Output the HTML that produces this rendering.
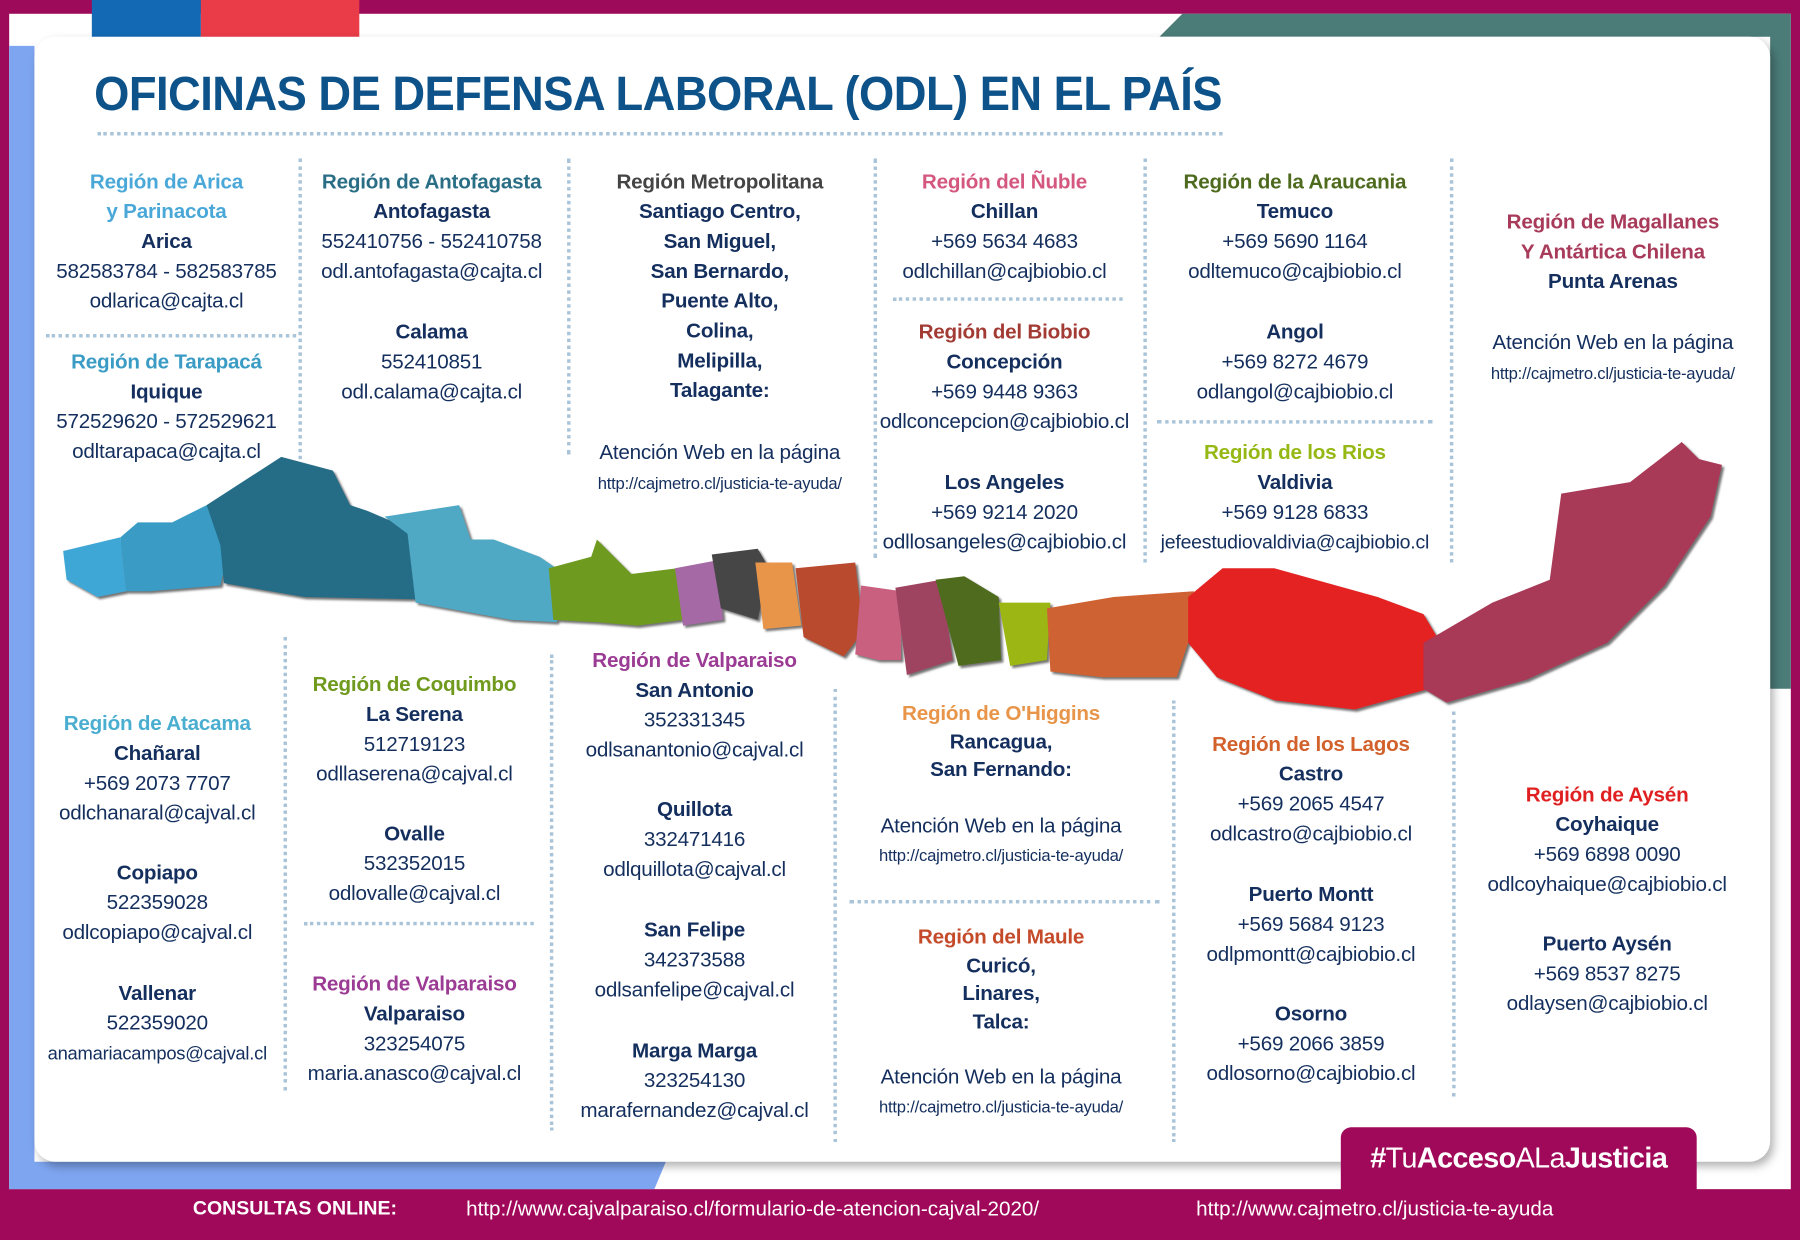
<!DOCTYPE html>
<html><head><meta charset="utf-8">
<style>
html,body{margin:0;padding:0;width:1800px;height:1240px;overflow:hidden;background:#9e0a5a}
#w{position:absolute;left:0;top:0;width:1568px;height:1080px;transform:scale(1.147959);transform-origin:0 0;font-family:"Liberation Sans",sans-serif}
.b{position:absolute;width:300px;text-align:center;font-size:18px;line-height:26px;color:#142f5e;letter-spacing:-0.2px;white-space:nowrap}
.b b{font-weight:bold}
.s{font-size:14.5px}
.vd{position:absolute;width:0;border-left:3px dotted #a9c4d8}
.hd{position:absolute;height:0;border-top:3px dotted #a9c4d8}
</style></head><body><div id="w">
<svg width="1568" height="1080" style="position:absolute;left:0;top:0">
<rect x="8" y="12" width="1552" height="1024" fill="#fff"/>
<polygon points="8,40 30,40 30,1012 580,1012 570,1036 8,1036" fill="#7ea5f0"/>
<polygon points="1030,12 1560,12 1560,600 1542,600 1542,32 1010,32" fill="#4b7c78"/>
<rect x="80" y="0" width="95" height="45" fill="#1369b4"/>
<rect x="175" y="0" width="138" height="45" fill="#e93c48"/>
<rect x="30" y="32" width="1512" height="980" rx="18" fill="#fff" style="filter:drop-shadow(3px 4px 4px rgba(0,0,0,.3))"/>
<rect x="0" y="1036" width="1568" height="44" fill="#a0085a"/>
<rect x="1168" y="982" width="310" height="63" rx="9" fill="#a0085a"/>
<g style="filter:drop-shadow(2px 2px 1px rgba(0,0,0,.55))">
<polygon points="55,480 105,468 110,515 85,520 58,505" fill="#3fa7d6"/>
<polygon points="105,468 120,455 150,455 180,440 200,475 192,510 130,515 110,515" fill="#3a9cc4"/>
<polygon points="180,440 245,398 290,410 305,440 320,445 355,460 362,522 265,520 195,508 192,475" fill="#256c87"/>
<polygon points="335,450 400,440 410,470 430,470 470,485 492,500 485,542 445,540 362,525 355,465" fill="#4fa8c4"/>
<polygon points="478,495 515,485 520,470 550,500 590,495 595,540 555,545 520,542 482,540" fill="#6e9a20"/>
<polygon points="588,495 625,488 630,540 595,545" fill="#a569a6"/>
<polygon points="620,483 660,478 670,495 660,540 628,530" fill="#464646"/>
<polygon points="658,490 690,490 698,545 665,548" fill="#e8954a"/>
<polygon points="693,495 745,490 752,550 735,572 700,555" fill="#b94a2e"/>
<polygon points="750,510 785,515 785,575 765,575 745,570" fill="#c96080"/>
<polygon points="780,512 820,505 830,575 790,588" fill="#9e4460"/>
<polygon points="815,505 840,502 870,520 872,575 835,580" fill="#4f6c1e"/>
<polygon points="870,525 915,525 912,575 880,580" fill="#9cb713"/>
<polygon points="912,530 970,520 1040,515 1035,560 1025,590 960,590 915,585" fill="#cf6232"/>
<polygon points="1035,520 1065,495 1110,495 1200,520 1240,535 1255,560 1245,600 1180,618 1110,610 1060,590 1035,560" fill="#e42222"/>
<polygon points="1240,560 1300,525 1350,505 1360,430 1420,420 1465,385 1480,400 1500,405 1490,450 1450,510 1400,560 1330,592 1260,612 1240,600" fill="#a83a58"/>
</g>
</svg>
<div style="position:absolute;left:82px;top:58px;font-size:42px;font-weight:bold;color:#0d5289;letter-spacing:-0.5px;white-space:nowrap;transform:scaleX(0.94);transform-origin:0 0">OFICINAS DE DEFENSA LABORAL (ODL) EN EL PAÍS</div>
<div class="hd" style="left:85px;top:115px;width:980px"></div>

<div class="vd" style="left:260px;top:138px;height:262px"></div>
<div class="vd" style="left:494px;top:138px;height:258px"></div>
<div class="vd" style="left:761px;top:138px;height:348px"></div>
<div class="vd" style="left:996px;top:138px;height:352px"></div>
<div class="vd" style="left:1263px;top:138px;height:352px"></div>
<div class="hd" style="left:40px;top:291px;width:218px"></div>
<div class="hd" style="left:778px;top:259px;width:200px"></div>
<div class="hd" style="left:1008px;top:366px;width:240px"></div>
<div class="vd" style="left:247px;top:555px;height:395px"></div>
<div class="vd" style="left:479px;top:570px;height:415px"></div>
<div class="vd" style="left:726px;top:600px;height:395px"></div>
<div class="vd" style="left:1021px;top:610px;height:385px"></div>
<div class="vd" style="left:1265px;top:620px;height:335px"></div>
<div class="hd" style="left:265px;top:803px;width:200px"></div>
<div class="hd" style="left:740px;top:784px;width:270px"></div>

<div class="b" style="left:-5px;top:145px"><b style="color:#4aa8d8">Región de Arica<br>y Parinacota</b><br><b>Arica</b><br>582583784 - 582583785<br>odlarica@cajta.cl</div>
<div class="b" style="left:-5px;top:302px"><b style="color:#3a9cc4">Región de Tarapacá</b><br><b>Iquique</b><br>572529620 - 572529621<br>odltarapaca@cajta.cl</div>
<div class="b" style="left:226px;top:145px"><b style="color:#2a6e86">Región de Antofagasta</b><br><b>Antofagasta</b><br>552410756 - 552410758<br>odl.antofagasta@cajta.cl</div>
<div class="b" style="left:226px;top:276px"><b>Calama</b><br>552410851<br>odl.calama@cajta.cl</div>
<div class="b" style="left:477px;top:145px"><b style="color:#444">Región Metropolitana</b><br><b>Santiago Centro,<br>San Miguel,<br>San Bernardo,<br>Puente Alto,<br>Colina,<br>Melipilla,<br>Talagante:</b></div>
<div class="b" style="left:477px;top:381px">Atención Web en la página<br><span class="s">http://cajmetro.cl/justicia-te-ayuda/</span></div>
<div class="b" style="left:725px;top:145px"><b style="color:#d4577f">Región del Ñuble</b><br><b>Chillan</b><br>+569 5634 4683<br>odlchillan@cajbiobio.cl</div>
<div class="b" style="left:725px;top:276px"><b style="color:#a33b35">Región del Biobio</b><br><b>Concepción</b><br>+569 9448 9363<br>odlconcepcion@cajbiobio.cl</div>
<div class="b" style="left:725px;top:407px"><b>Los Angeles</b><br>+569 9214 2020<br>odllosangeles@cajbiobio.cl</div>
<div class="b" style="left:978px;top:145px"><b style="color:#4e6a1f">Región de la Araucania</b><br><b>Temuco</b><br>+569 5690 1164<br>odltemuco@cajbiobio.cl</div>
<div class="b" style="left:978px;top:276px"><b>Angol</b><br>+569 8272 4679<br>odlangol@cajbiobio.cl</div>
<div class="b" style="left:978px;top:381px"><b style="color:#95b814">Región de los Rios</b><br><b>Valdivia</b><br>+569 9128 6833<br><span style="font-size:17px">jefeestudiovaldivia@cajbiobio.cl</span></div>
<div class="b" style="left:1255px;top:180px"><b style="color:#a83a5a">Región de Magallanes<br>Y Antártica Chilena</b><br><b>Punta Arenas</b></div>
<div class="b" style="left:1255px;top:285px">Atención Web en la página<br><span class="s">http://cajmetro.cl/justicia-te-ayuda/</span></div>

<div class="b" style="left:-13px;top:617px"><b style="color:#4aaed0">Región de Atacama</b><br><b>Chañaral</b><br>+569 2073 7707<br>odlchanaral@cajval.cl</div>
<div class="b" style="left:-13px;top:747px"><b>Copiapo</b><br>522359028<br>odlcopiapo@cajval.cl</div>
<div class="b" style="left:-13px;top:852px"><b>Vallenar</b><br>522359020<br><span style="font-size:16px">anamariacampos@cajval.cl</span></div>
<div class="b" style="left:211px;top:583px"><b style="color:#6f9a1e">Región de Coquimbo</b><br><b>La Serena</b><br>512719123<br>odllaserena@cajval.cl</div>
<div class="b" style="left:211px;top:713px"><b>Ovalle</b><br>532352015<br>odlovalle@cajval.cl</div>
<div class="b" style="left:211px;top:844px"><b style="color:#9b3b94">Región de Valparaiso</b><br><b>Valparaiso</b><br>323254075<br>maria.anasco@cajval.cl</div>
<div class="b" style="left:455px;top:562px"><b style="color:#9b3b94">Región de Valparaiso</b><br><b>San Antonio</b><br>352331345<br>odlsanantonio@cajval.cl</div>
<div class="b" style="left:455px;top:692px"><b>Quillota</b><br>332471416<br>odlquillota@cajval.cl</div>
<div class="b" style="left:455px;top:797px"><b>San Felipe</b><br>342373588<br>odlsanfelipe@cajval.cl</div>
<div class="b" style="left:455px;top:902px"><b>Marga Marga</b><br>323254130<br>marafernandez@cajval.cl</div>
<div class="b" style="left:722px;top:609px;line-height:24.5px"><b style="color:#e8954a">Región de O'Higgins</b><br><b>Rancagua,<br>San Fernando:</b></div>
<div class="b" style="left:722px;top:707px;line-height:24.5px">Atención Web en la página<br><span class="s">http://cajmetro.cl/justicia-te-ayuda/</span></div>
<div class="b" style="left:722px;top:804px;line-height:24.5px"><b style="color:#c44a2a">Región del Maule</b><br><b>Curicó,<br>Linares,<br>Talca:</b></div>
<div class="b" style="left:722px;top:926px;line-height:24.5px">Atención Web en la página<br><span class="s">http://cajmetro.cl/justicia-te-ayuda/</span></div>
<div class="b" style="left:992px;top:635px"><b style="color:#d2612c">Región de los Lagos</b><br><b>Castro</b><br>+569 2065 4547<br>odlcastro@cajbiobio.cl</div>
<div class="b" style="left:992px;top:766px"><b>Puerto Montt</b><br>+569 5684 9123<br>odlpmontt@cajbiobio.cl</div>
<div class="b" style="left:992px;top:870px"><b>Osorno</b><br>+569 2066 3859<br>odlosorno@cajbiobio.cl</div>
<div class="b" style="left:1250px;top:679px"><b style="color:#e02020">Región de Aysén</b><br><b>Coyhaique</b><br>+569 6898 0090<br>odlcoyhaique@cajbiobio.cl</div>
<div class="b" style="left:1250px;top:809px"><b>Puerto Aysén</b><br>+569 8537 8275<br>odlaysen@cajbiobio.cl</div>

<div style="position:absolute;left:1168px;top:995px;width:310px;text-align:center;color:#fff;font-size:25px;letter-spacing:-0.5px;white-space:nowrap"><b>#</b>Tu<b>Acceso</b>ALa<b>Justicia</b></div>
<div style="position:absolute;left:168px;top:1043px;color:#fff;font-size:17px;font-weight:bold;white-space:nowrap">CONSULTAS ONLINE:</div>
<div style="position:absolute;left:406px;top:1043px;color:#fff;font-size:18px;white-space:nowrap">http://www.cajvalparaiso.cl/formulario-de-atencion-cajval-2020/</div>
<div style="position:absolute;left:1042px;top:1043px;color:#fff;font-size:18px;white-space:nowrap">http://www.cajmetro.cl/justicia-te-ayuda</div>
</div></body></html>
